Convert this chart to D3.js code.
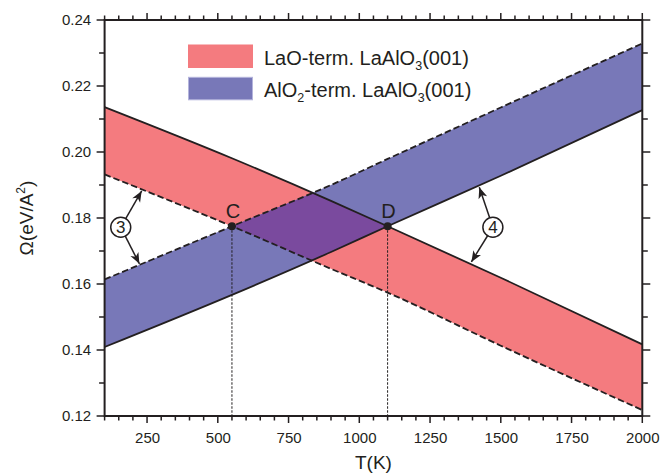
<!DOCTYPE html>
<html>
<head>
<meta charset="utf-8">
<script src="https://cdn.jsdelivr.net/npm/d3@7"></script>
<style>
body { margin: 0; background: #fff; }
text { font-family: "Liberation Sans", Arial, sans-serif; fill: #231f20; }
</style>
</head>
<body>
<script>
// values
const temps = [100, 550, 900, 1100, 1500, 2000];
const laoUpper = [0.2136, 0.1981, 0.1852, 0.1775, 0.1619, 0.1417];
const laoLower = [0.1932, 0.1775, 0.1646, 0.1574, 0.1413, 0.1218];
const alo2Upper = [0.1614, 0.1775, 0.1900, 0.1979, 0.2135, 0.2329];
const alo2Lower = [0.1409, 0.1567, 0.1697, 0.1775, 0.1928, 0.2127];

const pointLabels = ['C', 'D'];
const pointT = [550, 1100];
const pointOmega = [0.1775, 0.1775];

const calloutLabels = ['3', '4'];
const calloutT = [157, 1472];
const calloutOmega = [0.1772, 0.1772];
const calloutTips = [
    [[231, 0.1882], [223, 0.1661]],
    [[1424, 0.1893], [1396, 0.1667]]
];

const xMajor = [250, 500, 750, 1000, 1250, 1500, 1750, 2000];
const xMinor = d3.range(100, 2001, 50);
const yMajor = [0.12, 0.14, 0.16, 0.18, 0.20, 0.22, 0.24];
const yMinor = d3.range(12, 25, 1).map(d => d / 100);

const width = 660;
const height = 476;
const margin = { top: 20, right: 17.7, bottom: 60, left: 104.6 };
const ink = '#231f20';
const redFill = '#f47b7f';
const blueFill = '#7878b8';
const overlapFill = '#7a4a9e';

const svg = d3.select('body').append('svg')
    .attr('width', width)
    .attr('height', height);

const x = d3.scaleLinear().domain([100, 2000]).range([margin.left, width - margin.right]);
const y = d3.scaleLinear().domain([0.12, 0.24]).range([height - margin.bottom, margin.top]);

const band = (upper, lower) => temps.map((t, i) => ({ t: t, hi: upper[i], lo: lower[i] }));
const laoBand = band(laoUpper, laoLower);
const alo2Band = band(alo2Upper, alo2Lower);

const area = d3.area()
    .x(d => x(d.t))
    .y0(d => y(d.lo))
    .y1(d => y(d.hi))
    .curve(d3.curveMonotoneX);

const line = d3.line()
    .x(d => x(d[0]))
    .y(d => y(d[1]))
    .curve(d3.curveMonotoneX);

const defs = svg.append('defs');
defs.append('clipPath').attr('id', 'blue-band')
    .append('path').attr('d', area(alo2Band));
defs.append('marker')
    .attr('id', 'arrow')
    .attr('viewBox', '-12 -6 14 12')
    .attr('refX', 0).attr('refY', 0)
    .attr('markerUnits', 'userSpaceOnUse')
    .attr('markerWidth', 14).attr('markerHeight', 12)
    .attr('orient', 'auto')
    .append('path')
    .attr('d', 'M0,0L-11,-4.5L-8,0L-11,4.5Z')
    .attr('fill', ink);

// bands
svg.append('path').attr('d', area(laoBand)).attr('fill', redFill);
svg.append('path').attr('d', area(alo2Band)).attr('fill', blueFill);
svg.append('path').attr('d', area(laoBand)).attr('fill', overlapFill)
    .attr('clip-path', 'url(#blue-band)');

// boundary lines
const curves = [
    { values: laoUpper, dash: null },
    { values: laoLower, dash: '6.5,3' },
    { values: alo2Upper, dash: '6.5,3' },
    { values: alo2Lower, dash: null }
];
curves.forEach(c => {
    svg.append('path')
        .attr('d', line(temps.map((t, i) => [t, c.values[i]])))
        .attr('fill', 'none')
        .attr('stroke', ink)
        .attr('stroke-width', 1.8)
        .attr('stroke-dasharray', c.dash);
});

// crossing points C and D with drop lines
pointLabels.forEach((lab, i) => {
    const px = x(pointT[i]);
    const py = y(pointOmega[i]);
    svg.append('line')
        .attr('x1', px).attr('x2', px)
        .attr('y1', py).attr('y2', y(0.12))
        .attr('stroke', ink)
        .attr('stroke-width', 1)
        .attr('stroke-dasharray', '2.5,1.5');
    svg.append('circle')
        .attr('cx', px).attr('cy', py).attr('r', 4)
        .attr('fill', ink);
    svg.append('text')
        .attr('x', px + 1).attr('y', py - 8)
        .attr('text-anchor', 'middle')
        .attr('font-size', 20)
        .text(lab);
});

// circled callouts with arrows
const r = 10;
calloutLabels.forEach((lab, i) => {
    const cx = x(calloutT[i]);
    const cy = y(calloutOmega[i]);
    calloutTips[i].forEach(tip => {
        const tx = x(tip[0]);
        const ty = y(tip[1]);
        const len = Math.hypot(tx - cx, ty - cy);
        svg.append('line')
            .attr('x1', cx + (tx - cx) / len * r)
            .attr('y1', cy + (ty - cy) / len * r)
            .attr('x2', tx).attr('y2', ty)
            .attr('stroke', ink)
            .attr('stroke-width', 1.5)
            .attr('marker-end', 'url(#arrow)');
    });
    svg.append('circle')
        .attr('cx', cx).attr('cy', cy).attr('r', r)
        .attr('fill', '#fff')
        .attr('stroke', ink)
        .attr('stroke-width', 1.5);
    svg.append('text')
        .attr('x', cx).attr('y', cy + 6)
        .attr('text-anchor', 'middle')
        .attr('font-size', 17)
        .text(lab);
});

// frame
const plotBottom = y(0.12);
const plotTop = y(0.24);
const plotLeft = x(100);
const plotRight = x(2000);

svg.append('rect')
    .attr('x', plotLeft).attr('y', plotTop)
    .attr('width', plotRight - plotLeft)
    .attr('height', plotBottom - plotTop)
    .attr('fill', 'none')
    .attr('stroke', ink)
    .attr('stroke-width', 2);

// tick marks on all four sides (outward)
const xTickLen = d => xMajor.includes(d) ? 7 : 4.5;
const yTickLen = d => yMajor.some(v => Math.abs(v - d) < 1e-9) ? 8 : 5.5;

svg.append('g').selectAll('line').data(xMinor).join('line')
    .attr('x1', d => x(d)).attr('x2', d => x(d))
    .attr('y1', plotBottom).attr('y2', d => plotBottom + xTickLen(d))
    .attr('stroke', ink).attr('stroke-width', 1.5);
svg.append('g').selectAll('line').data(xMinor).join('line')
    .attr('x1', d => x(d)).attr('x2', d => x(d))
    .attr('y1', plotTop).attr('y2', d => plotTop - xTickLen(d))
    .attr('stroke', ink).attr('stroke-width', 1.5);
svg.append('g').selectAll('line').data(yMinor).join('line')
    .attr('y1', d => y(d)).attr('y2', d => y(d))
    .attr('x1', plotLeft).attr('x2', d => plotLeft - yTickLen(d))
    .attr('stroke', ink).attr('stroke-width', 1.5);
svg.append('g').selectAll('line').data(yMinor).join('line')
    .attr('y1', d => y(d)).attr('y2', d => y(d))
    .attr('x1', plotRight).attr('x2', d => plotRight + yTickLen(d))
    .attr('stroke', ink).attr('stroke-width', 1.5);

// tick labels through d3 axes
const styleAxis = g => {
    g.select('.domain').remove();
    g.selectAll('.tick line').remove();
    g.selectAll('.tick text').attr('font-size', 15).style('fill', ink)
        .attr('font-family', '"Liberation Sans", Arial, sans-serif');
};
svg.append('g').attr('transform', `translate(0,${plotBottom})`)
    .call(d3.axisBottom(x).tickValues(xMajor).tickSize(6).tickPadding(10).tickFormat(d3.format('d')))
    .call(styleAxis);
svg.append('g').attr('transform', `translate(${plotLeft},0)`)
    .call(d3.axisLeft(y).tickValues(yMajor).tickSize(8).tickPadding(5.5).tickFormat(d3.format('.2f')))
    .call(styleAxis);

// axis titles
svg.append('text')
    .attr('x', (plotLeft + plotRight) / 2)
    .attr('y', 469)
    .attr('text-anchor', 'middle')
    .attr('font-size', 19)
    .text('T(K)');

const yTitle = svg.append('text')
    .attr('transform', `translate(33,${(plotTop + plotBottom) / 2}) rotate(-90)`)
    .attr('text-anchor', 'middle')
    .attr('font-size', 19);
yTitle.append('tspan').text('Ω(eV/A');
yTitle.append('tspan').attr('font-size', 12).attr('dy', -8).text('2');
yTitle.append('tspan').attr('dy', 8).text(')');

// legend
const legendItems = [
    { fill: redFill, stroke: redFill, parts: [['LaO-term. LaAlO', 0], ['3', 1], ['(001)', 0]] },
    { fill: blueFill, stroke: '#b4b4dc', parts: [['AlO', 0], ['2', 1], ['-term. LaAlO', 0], ['3', 1], ['(001)', 0]] }
];
legendItems.forEach((item, i) => {
    const top = 45 + i * 32.3;
    svg.append('rect')
        .attr('x', 188.5).attr('y', top)
        .attr('width', 64).attr('height', 22.5)
        .attr('fill', item.fill)
        .attr('stroke', item.stroke)
        .attr('stroke-width', 1);
    const t = svg.append('text')
        .attr('x', 264).attr('y', top + 19.5)
        .attr('font-size', 20);
    let shifted = 0;
    item.parts.forEach(p => {
        const dy = (p[1] ? 5 : 0) - shifted;
        shifted = p[1] ? 5 : 0;
        t.append('tspan')
            .attr('dy', dy)
            .attr('font-size', p[1] ? 12.5 : 20)
            .text(p[0]);
    });
});
</script>
</body>
</html>
